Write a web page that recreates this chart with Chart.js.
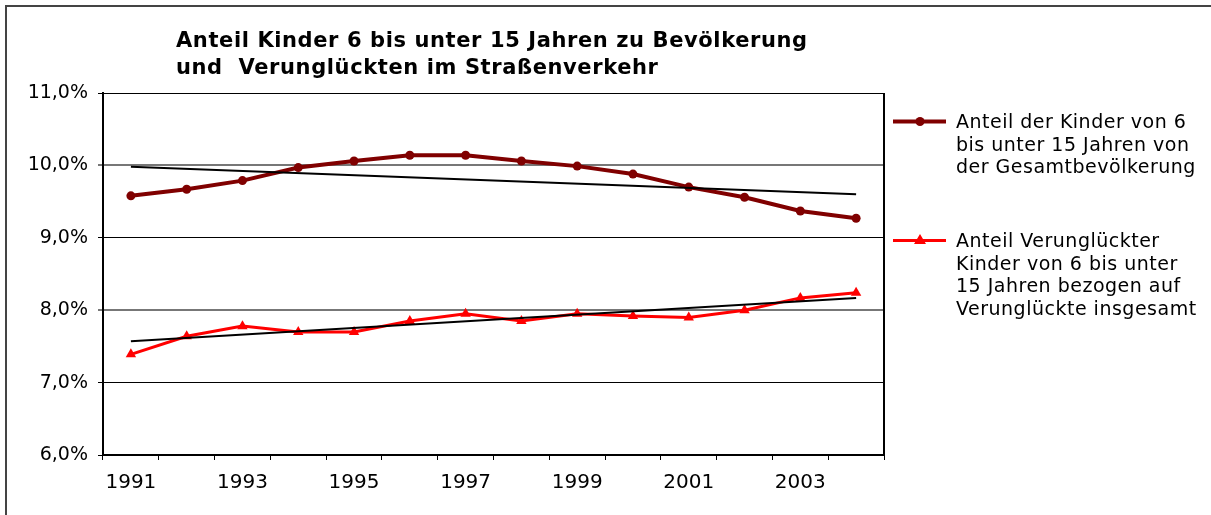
<!DOCTYPE html>
<html lang="de">
<head>
  <meta charset="UTF-8">
  <title>Anteil Kinder 6 bis unter 15 Jahren</title>
  <script src="https://cdn.jsdelivr.net/npm/chart.js@4.4.0/dist/chart.umd.min.js"></script>
  <style>
    body {
      margin: 0;
      background: #fff;
      font-family: 'DejaVu Sans', Verdana, sans-serif;
    }

    #wrap {
      position: relative;
      width: 1211px;
      height: 515px;
      overflow: hidden;
    }

    #frame {
      position: absolute;
      left: 5px;
      top: 5px;
      right: -10px;
      bottom: -10px;
      border-top: 2px solid #444;
      border-left: 2px solid #444;
    }

    #title {
      position: absolute;
      left: 176px;
      top: 27px;
      font-weight: bold;
      font-size: 21px;
      letter-spacing: 0.6px;
      line-height: 27px;
      color: #000;
      white-space: pre;
    }

    .legend-item {
      position: absolute;
      left: 893px;
      font-size: 19px;
      letter-spacing: 0.5px;
      line-height: 22.7px;
      color: #000;
    }

    .legend-item svg {
      position: absolute;
      left: 0;
      top: 0;
    }

    .legend-item span {
      position: absolute;
      left: 63px;
      top: 0;
      white-space: pre;
    }

    #chart {
      position: absolute;
      left: 0;
      top: 0;
    }
  </style>
</head>
<body>
<div id="wrap">
  <canvas id="chart" width="1211" height="515"></canvas>
  <div id="frame"></div>
  <div id="title">Anteil Kinder 6 bis unter 15 Jahren zu Bevölkerung
und  Verunglückten im Straßenverkehr</div>
  <div class="legend-item" style="top:110px">
    <svg width="60" height="23"><line x1="0" y1="11.5" x2="53" y2="11.5" stroke="#800000" stroke-width="4"/><circle cx="27" cy="11.5" r="4.5" fill="#800000"/></svg>
    <span>Anteil der Kinder von 6
bis unter 15 Jahren von
der Gesamtbevölkerung</span>
  </div>
  <div class="legend-item" style="top:229px">
    <svg width="60" height="23"><line x1="0" y1="11.5" x2="53" y2="11.5" stroke="#ff0000" stroke-width="3"/><polygon points="27,5 33,15 21,15" fill="#ff0000"/></svg>
    <span>Anteil Verunglückter
Kinder von 6 bis unter
15 Jahren bezogen auf
Verunglückte insgesamt</span>
  </div>
</div>

<script>
  const years = ['1991', '1992', '1993', '1994', '1995', '1996', '1997',
                 '1998', '1999', '2000', '2001', '2002', '2003', '2004'];

  // Anteil an der Gesamtbevölkerung (%)
  const anteilBevoelkerung = [9.58, 9.67, 9.79, 9.97, 10.06, 10.14, 10.14,
                              10.06, 9.99, 9.88, 9.70, 9.56, 9.37, 9.27];

  // Anteil an allen Verunglückten (%)
  const anteilVerunglueckte = [7.39, 7.64, 7.78, 7.70, 7.70, 7.85, 7.95,
                               7.85, 7.95, 7.92, 7.90, 8.00, 8.17, 8.24];

  // linear trend lines, start and end values
  const trendBevoelkerung = [9.98, null, null, null, null, null, null,
                             null, null, null, null, null, null, 9.60];
  const trendVerunglueckte = [7.57, null, null, null, null, null, null,
                              null, null, null, null, null, null, 8.17];

  const yTicks = [6, 7, 8, 9, 10, 11];

  // right edge of the plot area
  const plotFrame = {
    id: 'plotFrame',
    beforeDatasetsDraw(chart) {
      const {ctx, chartArea} = chart;
      ctx.save();
      ctx.strokeStyle = '#000';
      ctx.lineWidth = 2;
      ctx.beginPath();
      ctx.moveTo(chartArea.right, chartArea.top);
      ctx.lineTo(chartArea.right, chartArea.bottom);
      ctx.stroke();
      ctx.restore();
    }
  };

  const ctx = document.getElementById('chart').getContext('2d');
  new Chart(ctx, {
    type: 'line',
    data: {
      labels: years,
      datasets: [
        {
          data: trendBevoelkerung,
          borderColor: '#000',
          borderWidth: 2,
          pointRadius: 0,
          spanGaps: true,
          order: 0
        },
        {
          data: trendVerunglueckte,
          borderColor: '#000',
          borderWidth: 2,
          pointRadius: 0,
          spanGaps: true,
          order: 0
        },
        {
          label: 'Anteil der Kinder von 6 bis unter 15 Jahren von der Gesamtbevölkerung',
          data: anteilBevoelkerung,
          borderColor: '#800000',
          backgroundColor: '#800000',
          borderWidth: 4,
          pointStyle: 'circle',
          pointRadius: 4.5,
          pointBorderWidth: 0,
          tension: 0,
          order: 1
        },
        {
          label: 'Anteil Verunglückter Kinder von 6 bis unter 15 Jahren bezogen auf Verunglückte insgesamt',
          data: anteilVerunglueckte,
          borderColor: '#ff0000',
          backgroundColor: '#ff0000',
          borderWidth: 3,
          pointStyle: 'triangle',
          pointRadius: 6,
          pointBorderWidth: 0,
          tension: 0,
          order: 1
        }
      ]
    },
    options: {
      responsive: false,
      animation: false,
      layout: {
        padding: {left: 0, top: 93, right: 327, bottom: 0}
      },
      plugins: {
        legend: {display: false},
        title: {display: false},
        tooltip: {enabled: false}
      },
      scales: {
        x: {
          type: 'category',
          offset: true,
          grid: {
            offset: true,
            drawOnChartArea: false,
            color: '#000',
            tickLength: 5
          },
          border: {color: '#000', width: 2},
          ticks: {
            autoSkip: false,
            maxRotation: 0,
            padding: 11,
            color: '#000',
            font: {family: 'DejaVu Sans', size: 20},
            callback: (v, i) => (i % 2 === 0 ? years[i] : '')
          },
          afterFit(scale) {
            scale.height = 60;
          }
        },
        y: {
          min: 6,
          max: 11,
          afterBuildTicks(scale) {
            scale.ticks = yTicks.map(v => ({value: v}));
          },
          grid: {
            // the 10% and 8% lines show up grey and a bit wider in the original
            color: c => (c.tick && (c.tick.value === 10 || c.tick.value === 8) ? '#777' : '#000'),
            lineWidth: c => (c.tick && (c.tick.value === 10 || c.tick.value === 8) ? 2 : 1),
            tickLength: 5
          },
          border: {color: '#000', width: 2},
          ticks: {
            padding: 10,
            color: '#000',
            font: {family: 'DejaVu Sans', size: 19},
            callback: v => v.toFixed(1).replace('.', ',') + '%'
          },
          afterFit(scale) {
            scale.width = 103;
          }
        }
      }
    },
    plugins: [plotFrame]
  });
</script>
</body>
</html>
